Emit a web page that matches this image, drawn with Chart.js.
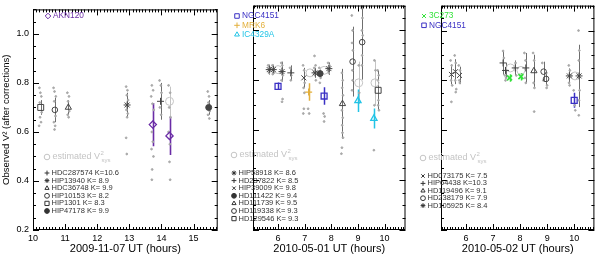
<!DOCTYPE html>
<html>
<head>
<meta charset="utf-8">
<script src="https://cdn.jsdelivr.net/npm/chart.js"></script>
<style>
html, body { margin: 0; padding: 0; background: #fff; }
#wrap { position: relative; width: 600px; height: 257px; overflow: hidden; }
#wrap canvas { position: absolute; top: 0; }
</style>
</head>
<body>
<div id="wrap">
  <canvas id="c3" width="194" height="257" style="left:406px"></canvas>
  <canvas id="c2" width="193" height="257" style="left:218px"></canvas>
  <canvas id="c1" width="223" height="257" style="left:0px"></canvas>
</div>
<script>
// Rows are [hours UT, V^2, error]

// --- 2009-11-07 ---
const akn120 = [[13.73, 0.63, 0.088], [14.25, 0.584, 0.078]];
const hdc287574 = [[13.97, 0.725, 0.075]];
const hip13940 = [[12.93, 0.71, 0.05]];
const hdc36748 = [[11.1, 0.70, 0.03]];
const hip10153 = [[10.68, 0.69, 0.05]];
const hip1301 = [[10.24, 0.70, 0.03]];
const hip47178 = [[15.47, 0.70, 0.03]];
const est0711 = [[14.25, 0.725, 0.06]];
const raw0711 = [
  [10.20, 0.78], [10.23, 0.76], [10.26, 0.745], [10.21, 0.72], [10.27, 0.68], [10.22, 0.66], [10.25, 0.64], [10.19, 0.625],
  [10.64, 0.78], [10.67, 0.765], [10.71, 0.745], [10.66, 0.725], [10.70, 0.665], [10.65, 0.64], [10.69, 0.625], [10.67, 0.61],
  [11.07, 0.76], [11.12, 0.745], [11.09, 0.725], [11.13, 0.685], [11.08, 0.67], [11.11, 0.66],
  [12.90, 0.785], [12.94, 0.77], [12.92, 0.75], [12.96, 0.73], [12.91, 0.69], [12.95, 0.675], [12.93, 0.66], [12.90, 0.576], [12.92, 0.51],
  [13.70, 0.79], [13.74, 0.77], [13.68, 0.745], [13.72, 0.715], [13.76, 0.69], [13.70, 0.60], [13.73, 0.56], [13.69, 0.53], [13.75, 0.50], [13.71, 0.447], [13.70, 0.405],
  [13.94, 0.81], [13.98, 0.79], [14.00, 0.76], [13.95, 0.70], [13.99, 0.67],
  [14.22, 0.79], [14.27, 0.76], [14.24, 0.70], [14.28, 0.66], [14.22, 0.60], [14.26, 0.55], [14.25, 0.478], [14.27, 0.405],
  [15.44, 0.765], [15.48, 0.745], [15.46, 0.72], [15.50, 0.685], [15.45, 0.67], [15.49, 0.655]
];

// --- 2010-05-01 ---
const ngc4151a = [[6.0, 0.776, 0.015], [7.73, 0.737, 0.035]];
const mrk6 = [[7.15, 0.753, 0.035]];
const ic4329a = [[9.0, 0.718, 0.045], [9.6, 0.647, 0.04]];
const hip58918 = [[5.67, 0.843, 0.02], [5.82, 0.843, 0.02], [6.15, 0.835, 0.04], [7.39, 0.83, 0.02], [7.91, 0.847, 0.025]];
const hd237822 = [[6.48, 0.83, 0.03]];
const hip39009 = [[6.97, 0.81, 0.04]];
const hd111422 = [[7.58, 0.827, 0.02]];
const hd111739 = [[8.42, 0.706, 0.14]];
const hd119338 = [[8.8, 0.875, 0.14], [9.16, 0.953, 0.15]];
const hd129546 = [[9.76, 0.76, 0.08]];
const est0501 = [[6.0, 0.843, 0], [7.2, 0.83, 0], [7.73, 0.84, 0], [9.03, 0.79, 0.085], [9.64, 0.79, 0.09]];
const raw0501 = [
  [5.63, 0.86], [5.66, 0.83], [5.70, 0.85], [5.79, 0.86], [5.84, 0.83], [5.80, 0.825],
  [6.12, 0.87], [6.16, 0.86], [6.18, 0.82], [6.13, 0.80], [6.17, 0.725], [6.15, 0.714],
  [6.45, 0.85], [6.50, 0.82], [6.48, 0.80],
  [6.94, 0.86], [6.98, 0.84], [7.00, 0.79], [6.96, 0.77], [6.99, 0.75], [6.97, 0.686], [6.95, 0.667],
  [7.13, 0.686], [7.17, 0.667],
  [7.36, 0.85], [7.41, 0.86], [7.42, 0.80], [7.37, 0.898],
  [7.55, 0.85], [7.60, 0.81], [7.57, 0.79],
  [7.88, 0.87], [7.93, 0.86], [7.90, 0.83],
  [7.71, 0.667], [7.75, 0.655], [7.73, 0.635],
  [8.40, 0.83], [8.43, 0.80], [8.41, 0.77], [8.44, 0.74], [8.40, 0.68], [8.43, 0.65], [8.41, 0.62], [8.42, 0.59], [8.44, 0.57], [8.40, 0.53], [8.38, 0.506],
  [8.77, 1.06], [8.80, 1.0], [8.78, 0.95], [8.81, 0.92], [8.79, 0.84], [8.80, 0.80], [8.78, 0.76],
  [9.14, 1.09], [9.17, 1.05], [9.15, 1.0], [9.18, 0.98], [9.16, 0.90], [9.15, 0.86],
  [9.03, 0.86], [9.05, 0.75],
  [9.62, 0.88], [9.66, 0.84], [9.62, 0.70], [9.60, 0.52],
  [9.74, 0.84], [9.78, 0.82], [9.75, 0.80], [9.77, 0.72], [9.76, 0.70], [9.79, 0.68]
];

// --- 2010-05-02 ---
const c3c273 = [[7.61, 0.81, 0.015], [8.03, 0.815, 0.015]];
const ngc4151b = [[10.0, 0.72, 0.03]];
const hd073175 = [[5.46, 0.824, 0.04], [5.61, 0.835, 0.05], [5.76, 0.82, 0.035]];
const hip64438 = [[7.37, 0.87, 0.047], [7.46, 0.84, 0.03], [7.82, 0.85, 0.03], [8.21, 0.85, 0.06]];
const hd119496 = [[8.51, 0.838, 0.065]];
const hd238179 = [[8.87, 0.835, 0.04], [8.96, 0.806, 0.025]];
const hd105925 = [[9.82, 0.818, 0.03], [10.18, 0.818, 0.125]];
const est0502 = [[7.64, 0.85, 0], [8.03, 0.84, 0], [10.03, 0.818, 0]];
const raw0502 = [
  [5.43, 0.88], [5.47, 0.86], [5.45, 0.80], [5.49, 0.78], [5.58, 0.90], [5.62, 0.87], [5.60, 0.80], [5.64, 0.765],
  [5.62, 0.753], [5.73, 0.86], [5.78, 0.84], [5.75, 0.80], [5.77, 0.79], [5.46, 0.714],
  [7.37, 0.918], [7.40, 0.89], [7.44, 0.82], [7.48, 0.81], [7.46, 0.80],
  [7.83, 0.87], [7.86, 0.82], [8.16, 0.91], [8.20, 0.88], [8.18, 0.81], [8.21, 0.79],
  [8.48, 0.91], [8.52, 0.88], [8.50, 0.79], [8.53, 0.77], [8.52, 0.675],
  [8.82, 0.87], [8.86, 0.80], [8.97, 0.83], [9.00, 0.78], [8.98, 0.77],
  [9.80, 0.86], [9.84, 0.84], [9.81, 0.79], [9.83, 0.78],
  [10.16, 1.0], [10.19, 0.92], [10.17, 0.88], [10.20, 0.76], [10.18, 0.72], [10.17, 0.66],
  [9.98, 0.76], [10.02, 0.70], [10.04, 0.68]
];

const yTicks = [0.2, 0.4, 0.6, 0.8, 1.0];
const xTicks0711 = [10, 11, 12, 13, 14, 15];
const xTicks0501 = [6, 7, 8, 9, 10];
const xTicks0502 = [6, 7, 8, 9, 10];

const PURPLE = '#6a2ca6', BLUE = '#3a30c4', GOLD = '#e3b03c', CYAN = '#22c4e6', GREEN = '#33e23a';
const DARK = '#444', BAR = '#6e6e6e', LIGHT = '#c4c4c4', DOT = '#a8a8a8';
const FONT = "'Liberation Sans', Arial, sans-serif";

Chart.defaults.font.family = FONT;
Chart.defaults.color = '#000';

function series(rows, style, color, r, opts = {}) {
  return {
    data: rows.map(p => ({ x: p[0], y: p[1] })),
    errs: rows.map(p => p[2] || 0),
    errColor: opts.errColor || color,
    errWidth: opts.errWidth || 1,
    pointStyle: style,
    pointRadius: r,
    pointBorderColor: color,
    pointBackgroundColor: opts.fill ? color : 'rgba(0,0,0,0)',
    pointBorderWidth: opts.bw || 1,
    showLine: false
  };
}
const calib = (rows, style, r, fill) => series(rows, style, DARK, r, { errColor: BAR, fill });
const estim = rows => series(rows, 'circle', LIGHT, 4, { errColor: LIGHT });
const dots = rows => series(rows, 'circle', DOT, 0.9, { fill: true });

function drawMarker(ctx, style, x, y, r, color, fill) {
  ctx.save();
  ctx.strokeStyle = color;
  ctx.fillStyle = fill ? color : 'rgba(0,0,0,0)';
  ctx.lineWidth = 1;
  Chart.helpers.drawPoint(ctx, { pointStyle: style, radius: r, borderWidth: 1, rotation: 0 }, x, y);
  ctx.restore();
}

// error bars under the symbols
const errBars = {
  id: 'errBars',
  beforeDatasetsDraw(chart) {
    const { ctx, chartArea: a, scales: { x, y } } = chart;
    ctx.save();
    ctx.beginPath();
    ctx.rect(a.left, a.top, a.right - a.left, a.bottom - a.top);
    ctx.clip();
    chart.data.datasets.slice().reverse().forEach(ds => {
      if (!ds.errs) return;
      ctx.strokeStyle = ds.errColor;
      ctx.lineWidth = ds.errWidth;
      ds.data.forEach((p, i) => {
        const e = ds.errs[i];
        if (!e) return;
        const px = Math.round(x.getPixelForValue(p.x)) + 0.5;
        ctx.beginPath();
        ctx.moveTo(px, y.getPixelForValue(p.y - e));
        ctx.lineTo(px, y.getPixelForValue(p.y + e));
        ctx.stroke();
      });
    });
    ctx.restore();
  }
};

// box with inward major/minor ticks on all four sides
const frame = {
  id: 'frame',
  afterDatasetsDraw(chart) {
    const { ctx, chartArea: a, scales: { x, y } } = chart;
    ctx.save();
    ctx.strokeStyle = '#000';
    ctx.lineWidth = 1;
    ctx.strokeRect(a.left + 0.5, a.top + 0.5, a.right - a.left - 1, a.bottom - a.top - 1);
    ctx.beginPath();
    for (let i = Math.ceil(x.min * 10); i <= x.max * 10; i++) {
      const px = Math.round(x.getPixelForValue(i / 10)) + 0.5;
      const len = i % 10 === 0 ? 6 : 3;
      ctx.moveTo(px, a.bottom); ctx.lineTo(px, a.bottom - len);
      ctx.moveTo(px, a.top); ctx.lineTo(px, a.top + len);
    }
    for (let j = Math.ceil(y.min * 20 - 1e-6); j <= y.max * 20 + 1e-6; j++) {
      const py = Math.round(y.getPixelForValue(j / 20)) + 0.5;
      const len = j % 4 === 0 ? 6 : 3;
      ctx.moveTo(a.left, py); ctx.lineTo(a.left + len, py);
      ctx.moveTo(a.right, py); ctx.lineTo(a.right - len, py);
    }
    ctx.stroke();
    ctx.restore();
  }
};

// hand-placed legends (positions in page pixels)
function notes(offset, top, bottom) {
  return {
    id: 'notes',
    afterDraw(chart) {
      const ctx = chart.ctx;
      ctx.save();
      ctx.textBaseline = 'middle';
      ctx.textAlign = 'left';
      ctx.font = '8.3px ' + FONT;
      top.items.forEach((it, i) => {
        const yy = top.y + i * top.step;
        drawMarker(ctx, it[0], top.x - offset, yy, it[0] === 'rect' ? 3.2 : 2.8, it[1], false);
        ctx.fillStyle = it[1];
        ctx.fillText(it[2], top.x - offset + 5, yy);
      });
      // estimated V^2 sys
      const ex = bottom.x - offset;
      drawMarker(ctx, 'circle', ex, bottom.yEst, 2.8, LIGHT, false);
      ctx.fillStyle = LIGHT;
      ctx.font = '9px ' + FONT;
      const s = 'estimated V';
      ctx.fillText(s, ex + 5.5, bottom.yEst);
      const w = ctx.measureText(s).width;
      ctx.font = '6px ' + FONT;
      ctx.fillText('2', ex + 5.5 + w + 0.5, bottom.yEst - 4);
      ctx.fillText('sys', ex + 5.5 + w + 1.5, bottom.yEst + 3.5);
      ctx.font = '7.5px ' + FONT;
      ctx.fillStyle = '#333';
      bottom.items.forEach((it, i) => {
        const yy = bottom.y0 + i * bottom.step;
        drawMarker(ctx, it[0], ex, yy, it[0] === 'rect' ? 3 : 2.4, '#333', it[0] === 'circle' && it[2]);
        ctx.fillStyle = '#333';
        ctx.fillText(it[1], ex + 4.5, yy);
      });
      ctx.restore();
    }
  };
}

function panel(id, xmin, xmax, xTicks, xTitle, datasets, pad, first, plugin) {
  return new Chart(document.getElementById(id), {
    type: 'scatter',
    data: { datasets },
    options: {
      responsive: false,
      animation: false,
      layout: { padding: pad },
      plugins: { legend: { display: false }, tooltip: { enabled: false } },
      scales: {
        x: {
          type: 'linear', min: xmin, max: xmax,
          grid: { display: false, drawTicks: false },
          border: { display: false },
          afterBuildTicks: s => { s.ticks = xTicks.map(v => ({ value: v })); },
          afterFit: s => { s.height = 27; },
          ticks: { font: { size: 9 }, padding: 3, maxRotation: 0, autoSkip: false },
          title: { display: true, text: xTitle, font: { size: 11 }, padding: { top: 0, bottom: 1 } }
        },
        y: {
          type: 'linear', min: 0.2, max: 1.1, display: first,
          grid: { display: false, drawTicks: false },
          border: { display: false },
          afterBuildTicks: s => { s.ticks = yTicks.map(v => ({ value: v })); },
          afterFit: s => { s.width = 33; },
          ticks: { font: { size: 9 }, padding: 4, callback: v => v.toFixed(1) },
          title: { display: true, text: 'Observed V² (after corrections)', font: { size: 9.5 }, padding: { top: 1, bottom: 0 } }
        }
      }
    },
    plugins: [errBars, frame, plugin]
  });
}

panel('c1', 10, 15.75, xTicks0711, '2009-11-07 UT (hours)', [
  series(akn120, 'rectRot', PURPLE, 3.6, { errWidth: 1.6, bw: 1.3 }),
  calib(hdc287574, 'cross', 3.5),
  calib(hip13940, 'star', 3.5),
  calib(hdc36748, 'triangle', 3.6),
  calib(hip10153, 'circle', 2.8),
  calib(hip1301, 'rect', 4.2),
  calib(hip47178, 'circle', 3, true),
  estim(est0711),
  dots(raw0711)
], { top: 2, right: 2, left: 0, bottom: 0 }, true,
  notes(0,
    { x: 48, y: 16, step: 9.3, items: [['rectRot', PURPLE, 'AKN120']] },
    { x: 47, yEst: 157, y0: 173, step: 7.6, items: [
      ['cross', 'HDC287574 K=10.6'], ['star', 'HIP13940 K= 8.9'], ['triangle', 'HDC36748 K= 9.9'],
      ['circle', 'HIP10153 K= 8.2'], ['rect', 'HIP1301 K= 8.3'], ['circle', 'HIP47178 K= 9.9', true]
    ] }));

panel('c2', 5.06, 10.787, xTicks0501, '2010-05-01 UT (hours)', [
  series(ngc4151a, 'rect', BLUE, 4.2, { errWidth: 1.5, bw: 1.3 }),
  series(mrk6, 'cross', GOLD, 3.5, { errWidth: 1.5, bw: 1.3 }),
  series(ic4329a, 'triangle', CYAN, 3.6, { errWidth: 1.5, bw: 1.3 }),
  calib(hip58918, 'star', 3.5),
  calib(hd237822, 'cross', 3.5),
  calib(hip39009, 'crossRot', 3.5),
  calib(hd111422, 'circle', 3, true),
  calib(hd111739, 'triangle', 3.6),
  calib(hd119338, 'circle', 2.8),
  calib(hd129546, 'rect', 4.2),
  estim(est0501),
  dots(raw0501)
], { top: 2, right: 2, left: 2, bottom: 0 }, false,
  notes(218,
    { x: 237, y: 16, step: 9.3, items: [['rect', BLUE, 'NGC4151'], ['cross', GOLD, 'MRK6'], ['triangle', CYAN, 'IC4329A']] },
    { x: 234, yEst: 155, y0: 173, step: 7.6, items: [
      ['star', 'HIP58918 K= 8.6'], ['cross', 'HD237822 K= 8.5'], ['crossRot', 'HIP39009 K= 9.8'],
      ['circle', 'HD111422 K= 9.4', true], ['triangle', 'HD111739 K= 9.5'], ['circle', 'HD119338 K= 9.3'],
      ['rect', 'HD129546 K= 9.3']
    ] }));

panel('c3', 5.075, 10.747, xTicks0502, '2010-05-02 UT (hours)', [
  series(c3c273, 'crossRot', GREEN, 3.5, { errWidth: 1.5, bw: 1.6 }),
  series(ngc4151b, 'rect', BLUE, 4.2, { errWidth: 1.5, bw: 1.3 }),
  calib(hd073175, 'crossRot', 3.5),
  calib(hip64438, 'cross', 3.5),
  calib(hd119496, 'triangle', 3.6),
  calib(hd238179, 'circle', 2.8),
  calib(hd105925, 'star', 3.5),
  estim(est0502),
  dots(raw0502)
], { top: 2, right: 2, left: 2, bottom: 0 }, false,
  notes(406,
    { x: 424, y: 16, step: 9.3, items: [['crossRot', GREEN, '3C273'], ['rect', BLUE, 'NGC4151']] },
    { x: 423, yEst: 158, y0: 176, step: 7.4, items: [
      ['crossRot', 'HD073175 K= 7.5'], ['cross', 'HIP64438 K=10.3'], ['triangle', 'HD119496 K= 9.1'],
      ['circle', 'HD238179 K= 7.9'], ['star', 'HD105925 K= 8.4']
    ] }));
</script>
</body>
</html>
